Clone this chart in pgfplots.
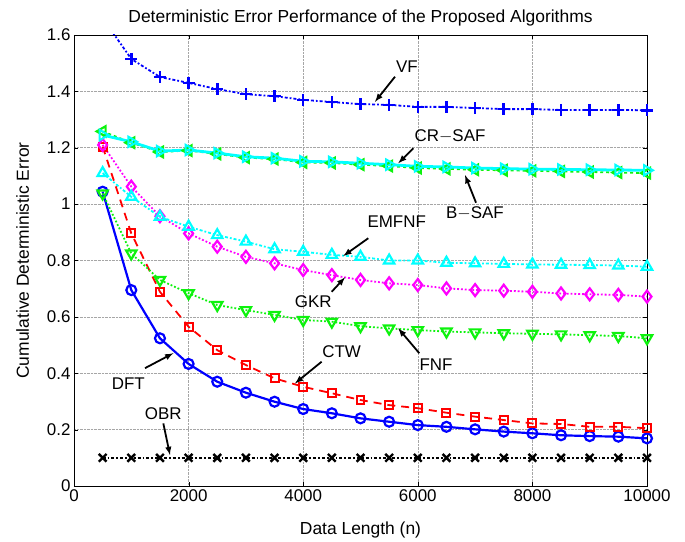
\documentclass[border=0pt]{standalone}
\usepackage{pgfplots}
\pgfplotsset{compat=1.18}
\usepackage{fontspec}
\setmainfont{Liberation Sans}
\definecolor{mgreen}{rgb}{0.05,0.95,0.05}
\definecolor{mcyan}{rgb}{0,1,1}
\definecolor{mmag}{rgb}{1,0,1}
\definecolor{mblue}{rgb}{0,0,1}
\definecolor{mred}{rgb}{1,0,0}
\begin{document}
\begin{tikzpicture}[font=\fontsize{17}{19}\selectfont]
\begin{axis}[
  scale only axis, width=573bp, height=451bp,
  xmin=0, xmax=10000, ymin=0, ymax=1.6,
  xtick={0,2000,...,10000}, ytick={0,0.2,...,1.6},
  yticklabels={0,0.2,0.4,0.6,0.8,1,1.2,1.4,1.6},
  scaled x ticks=false,
  /pgf/number format/set thousands separator={},
  /pgf/number format/assume math mode=true,
  tick label style={font=\fontsize{17}{19}\selectfont},
  label style={font=\fontsize{17.5}{19}\selectfont},
  title style={font=\fontsize{17.5}{19}\selectfont, yshift=-1pt},
  tick align=inside, tick style={black},
  grid=major, major grid style={gray!70, densely dotted, line width=0.5pt},
  axis line style={black},
  title={Deterministic Error Performance of the Proposed Algorithms},
  xlabel={Data Length (n)}, ylabel={Cumulative Deterministic Error},
  xlabel style={yshift=-14pt}, ylabel style={yshift=11pt},
  every axis plot/.append style={line width=1.8pt},
  clip=true,
]
% OBR
\addplot[black, dashdotted, mark=x, mark size=5.5pt, mark options={solid, line width=2.4pt}] coordinates {
(500,0.1)(1000,0.1)(1500,0.1)(2000,0.1)(2500,0.1)(3000,0.1)(3500,0.1)(4000,0.1)(4500,0.1)(5000,0.1)
(5500,0.1)(6000,0.1)(6500,0.1)(7000,0.1)(7500,0.1)(8000,0.1)(8500,0.1)(9000,0.1)(9500,0.1)(10000,0.1)};
% DFT
\addplot[mblue, solid, line width=2.2pt, mark=o, mark size=5pt, mark options={solid}] coordinates {
(500,1.044)(1000,0.695)(1500,0.524)(2000,0.433)(2500,0.370)(3000,0.331)(3500,0.299)(4000,0.273)(4500,0.258)(5000,0.240)
(5500,0.228)(6000,0.216)(6500,0.210)(7000,0.201)(7500,0.193)(8000,0.187)(8500,0.180)(9000,0.177)(9500,0.175)(10000,0.169)};
% CTW
\addplot[mred, dash pattern=on 8pt off 6pt, mark=square, mark size=4pt, mark options={solid, line width=2pt}] coordinates {
(500,1.204)(1000,0.896)(1500,0.689)(2000,0.565)(2500,0.482)(3000,0.429)(3500,0.382)(4000,0.352)(4500,0.329)(5000,0.305)
(5500,0.287)(6000,0.276)(6500,0.260)(7000,0.246)(7500,0.234)(8000,0.222)(8500,0.220)(9000,0.210)(9500,0.210)(10000,0.205)};
% FNF
\addplot[mgreen, dotted, mark=triangle, mark size=6pt, mark options={solid, line width=2.2pt, rotate=180}] coordinates {
(500,1.038)(1000,0.825)(1500,0.731)(2000,0.684)(2500,0.642)(3000,0.624)(3500,0.607)(4000,0.589)(4500,0.583)(5000,0.567)
(5500,0.559)(6000,0.553)(6500,0.548)(7000,0.545)(7500,0.542)(8000,0.540)(8500,0.538)(9000,0.535)(9500,0.532)(10000,0.524)};
% GKR
\addplot[mmag, dotted, mark=diamond, mark size=6pt, mark options={solid, line width=2.2pt}] coordinates {
(500,1.21)(1000,1.062)(1500,0.957)(2000,0.896)(2500,0.849)(3000,0.813)(3500,0.790)(4000,0.766)(4500,0.748)(5000,0.731)
(5500,0.719)(6000,0.713)(6500,0.701)(7000,0.695)(7500,0.693)(8000,0.689)(8500,0.683)(9000,0.680)(9500,0.678)(10000,0.672)};
% EMFNF
\addplot[mcyan, dashdotted, mark=triangle, mark size=6pt, mark options={solid, line width=2.2pt}] coordinates {
(500,1.11)(1000,1.026)(1500,0.955)(2000,0.920)(2500,0.890)(3000,0.867)(3500,0.840)(4000,0.831)(4500,0.820)(5000,0.813)
(5500,0.800)(6000,0.800)(6500,0.792)(7000,0.790)(7500,0.788)(8000,0.786)(8500,0.785)(9000,0.784)(9500,0.782)(10000,0.778)};
% B-SAF
\addplot[mgreen, dashed, mark=triangle, mark size=6pt, mark options={solid, line width=2.2pt, rotate=90}] coordinates {
(500,1.258)(1000,1.218)(1500,1.185)(2000,1.190)(2500,1.178)(3000,1.165)(3500,1.160)(4000,1.148)(4500,1.146)(5000,1.140)
(5500,1.135)(6000,1.128)(6500,1.125)(7000,1.122)(7500,1.120)(8000,1.118)(8500,1.116)(9000,1.114)(9500,1.112)(10000,1.110)};
% CR-SAF
\addplot[mcyan, solid, line width=2.8pt, mark=triangle, mark size=6pt, mark options={solid, line width=2pt, rotate=-90}] coordinates {
(500,1.245)(1000,1.221)(1500,1.188)(2000,1.192)(2500,1.181)(3000,1.168)(3500,1.163)(4000,1.152)(4500,1.150)(5000,1.145)
(5500,1.140)(6000,1.134)(6500,1.132)(7000,1.128)(7500,1.126)(8000,1.124)(8500,1.123)(9000,1.122)(9500,1.121)(10000,1.120)};
% VF
\addplot[mblue, dashdotted, mark=+, mark size=6pt, mark options={solid, line width=2.6pt}] coordinates {
(500,1.66)(1000,1.515)(1500,1.451)(2000,1.430)(2500,1.408)(3000,1.390)(3500,1.383)(4000,1.370)(4500,1.362)(5000,1.355)
(5500,1.352)(6000,1.345)(6500,1.345)(7000,1.341)(7500,1.337)(8000,1.337)(8500,1.334)(9000,1.334)(9500,1.334)(10000,1.333)};
% annotations
\tikzset{ann/.style={-{latex}, line width=1.8pt, black}}
\node at (axis cs:5810,1.487) {VF};
\draw[ann] (axis cs:5602,1.452) -- (axis cs:5253,1.363);
\node at (axis cs:6562,1.239) {CR$-$SAF};
\draw[ann] (axis cs:5922,1.198) -- (axis cs:5660,1.145);
\node at (axis cs:6998,0.967) {B$-$SAF};
\draw[ann] (axis cs:7016,1.005) -- (axis cs:6824,1.103);
\node at (axis cs:5632,0.938) {EMFNF};
\draw[ann] (axis cs:5136,0.879) -- (axis cs:4700,0.816);
\node at (axis cs:4176,0.654) {GKR};
\draw[ann] (axis cs:4497,0.689) -- (axis cs:4729,0.740);
\node at (axis cs:6318,0.429) {FNF};
\draw[ann] (axis cs:6026,0.471) -- (axis cs:5660,0.559);
\node at (axis cs:4671,0.476) {CTW};
\draw[ann] (axis cs:4322,0.441) -- (axis cs:3857,0.364);
\node at (axis cs:948,0.364) {DFT};
\draw[ann] (axis cs:1239,0.418) -- (axis cs:1733,0.471);
\node at (axis cs:1559,0.258) {OBR};
\draw[ann] (axis cs:1559,0.222) -- (axis cs:1675,0.11);
\end{axis}
\path (current axis.south west) ++(-74bp,-54bp) coordinate (bl);
\path (current axis.north east) ++(38bp,35bp) coordinate (tr);
\useasboundingbox (bl) rectangle (tr);
\end{tikzpicture}
\end{document}
